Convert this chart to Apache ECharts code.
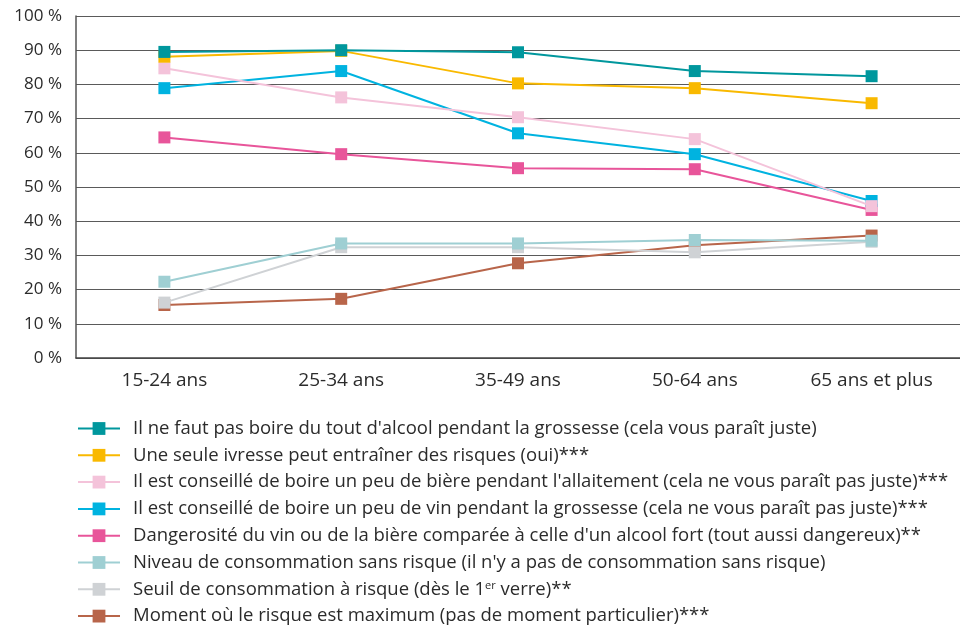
<!DOCTYPE html>
<html>
<head>
<meta charset="utf-8">
<script src="https://cdn.jsdelivr.net/npm/echarts@6/dist/echarts.min.js"></script>
<style>
    html, body { margin: 0; padding: 0; background: #fff; }
    #chart { width: 960px; height: 628px; }
</style>
</head>
<body>
<div id="chart"></div>
<script>
const categories = ['15-24 ans', '25-34 ans', '35-49 ans', '50-64 ans', '65 ans et plus']

const names = [
    "Il ne faut pas boire du tout d'alcool pendant la grossesse (cela vous paraît juste)",
    "Une seule ivresse peut entraîner des risques (oui)***",
    "Il est conseillé de boire un peu de bière pendant l'allaitement (cela ne vous paraît pas juste)***",
    "Il est conseillé de boire un peu de vin pendant la grossesse (cela ne vous paraît pas juste)***",
    "Dangerosité du vin ou de la bière comparée à celle d'un alcool fort (tout aussi dangereux)**",
    "Niveau de consommation sans risque (il n'y a pas de consommation sans risque)",
    "Seuil de consommation à risque (dès le 1er verre)**",
    "Moment où le risque est maximum (pas de moment particulier)***"
]

const colors = ['#00979d', '#f9b900', '#f4c3da', '#00b3e0', '#e8559a', '#9fcfd3', '#cfd2d5', '#b8654a']

const pasDuTout = [89.5, 90.0, 89.4, 83.9, 82.4]
const ivresse = [88.1, 89.8, 80.3, 78.9, 74.5]
const biereAllaitement = [84.7, 76.2, 70.4, 64.0, 44.4]
const vinGrossesse = [78.9, 83.9, 65.7, 59.6, 45.9]
const dangerosite = [64.5, 59.6, 55.5, 55.2, 43.3]
const niveauSansRisque = [22.3, 33.5, 33.5, 34.5, 34.3]
const seuilRisque = [16.2, 32.4, 32.4, 30.9, 34.0]
const momentRisque = [15.5, 17.3, 27.7, 33.0, 35.8]

const seriesValues = [pasDuTout, ivresse, biereAllaitement, vinGrossesse, dangerosite, niveauSansRisque, seuilRisque, momentRisque]

const font = 'Open Sans'
const textColor = '#2b2b2b'

const chart = echarts.init(document.getElementById('chart'))

const option = {
    animation: false,
    textStyle: { fontFamily: font },
    grid: {
        left: 76,
        right: -13,
        top: 16,
        height: 342
    },
    legend: {
        orient: 'vertical',
        left: 77,
        top: 419,
        height: 400,
        padding: 0,
        itemWidth: 42,
        itemHeight: 16,
        itemGap: 7.8,
        data: names,
        textStyle: {
            fontFamily: font,
            fontSize: 18.5,
            lineHeight: 18,
            color: textColor,
            padding: [0, 0, 0, 8],
            rich: {
                sup: { fontSize: 11, verticalAlign: 'top', padding: [0, 0, 7, 0], lineHeight: 18, fontFamily: font, color: textColor }
            }
        },
        formatter: (name) => name.replace('1er', '1{sup|er}')
    },
    xAxis: {
        type: 'category',
        data: categories,
        axisLine: { lineStyle: { color: '#444', width: 1.5 } },
        axisTick: { inside: true, length: 8, lineStyle: { color: '#444' } },
        axisLabel: { fontSize: 19, color: textColor, margin: 13, fontFamily: font }
    },
    yAxis: {
        type: 'value',
        min: 0,
        max: 100,
        interval: 10,
        axisLine: { show: true, lineStyle: { color: '#555', width: 1.5 } },
        axisTick: { show: false },
        axisLabel: { formatter: '{value} %', fontSize: 17, color: textColor, margin: 14, fontFamily: font },
        splitLine: { lineStyle: { color: '#5a5a5a', width: 1.2 } }
    },
    series: seriesValues.map((values, i) => ({
        name: names[i],
        type: 'line',
        data: values,
        z: 20 - i,
        symbol: 'rect',
        symbolSize: 12,
        color: colors[i],
        lineStyle: { width: 2, color: colors[i] },
        itemStyle: { color: colors[i] }
    }))
}

chart.setOption(option)
</script>
</body>
</html>
